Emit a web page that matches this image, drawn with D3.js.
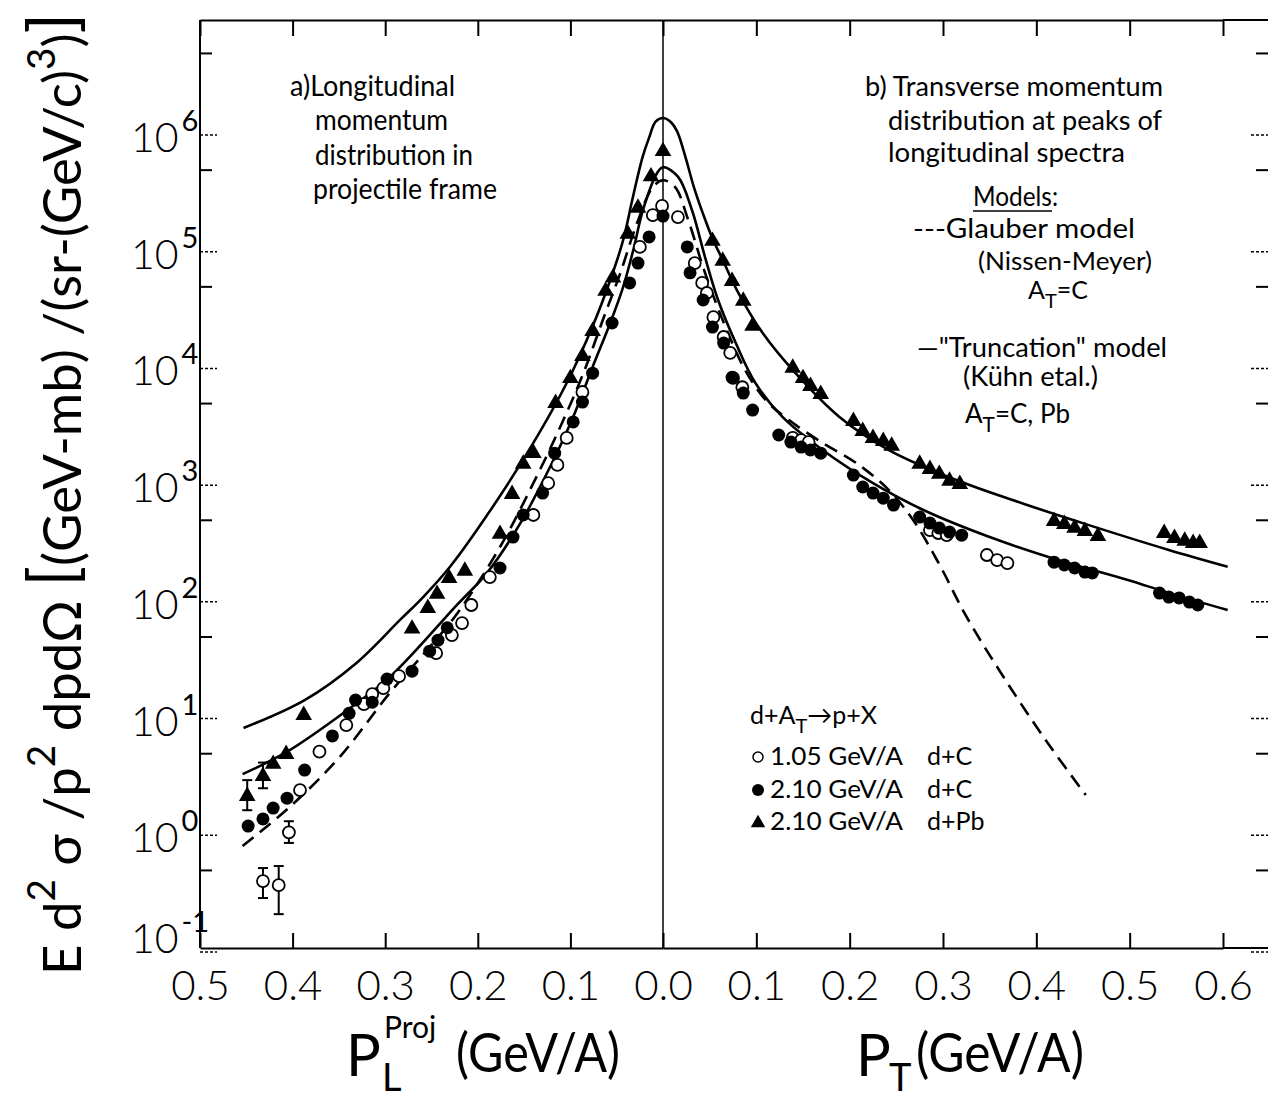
<!DOCTYPE html>
<html>
<head>
<meta charset="utf-8">
<script src="https://cdn.jsdelivr.net/npm/d3@7"></script>
<style>
  body { margin: 0; background: #fff; }
  svg { display: block; font-family: Lato, "DejaVu Sans", sans-serif; }
</style>
</head>
<body>
<svg id="chart" width="1268" height="1100"></svg>
<script>
// ---- values: [momentum (GeV/A), E d2sigma/p2dpdOmega] ----
// left panel: longitudinal momentum P_L (projectile frame)
const truncPbLeft = [[0,1.4e6],[0.008,1.3e6],[0.015,9.5e5],[0.022,6.5e5],[0.028,4.2e5],[0.034,2.6e5],[0.043,1.26e5],[0.057,5.7e4],[0.076,2.3e4],[0.104,7.5e3],[0.140,2.3e3],[0.184,650],[0.230,200],[0.259,110],[0.284,70],[0.331,30],[0.387,14.4],[0.453,8.3]];
const truncCLeft = [[0,5.3e5],[0.0065,4.7e5],[0.0216,2.28e5],[0.032,1.04e5],[0.043,5.0e4],[0.057,2.45e4],[0.076,1.03e4],[0.097,3.84e3],[0.122,1.43e3],[0.154,473],[0.190,177],[0.222,95],[0.295,22.7],[0.341,11.8],[0.406,5.2],[0.454,3.34]];
const glauberLeft = [[0,4.1e5],[0.011,3.58e5],[0.028,1.76e5],[0.046,6.6e4],[0.065,2.6e4],[0.086,9.1e3],[0.111,3.15e3],[0.140,1.04e3],[0.176,295],[0.222,80],[0.252,41],[0.295,16.6],[0.349,4.7],[0.403,1.75],[0.454,0.81]];

// [p, value] or [p, value, low, high] when an error bar is drawn
const open105Left = [[0.001,2.47e5],[0.011,2.06e5],[0.025,1.10e5],[0.087,6.28e3],[0.104,2.54e3],[0.114,1.49e3],[0.124,1.04e3],[0.140,555],[0.187,163],[0.207,94],[0.217,65.8],[0.228,51.9],[0.245,36.4],[0.285,23.1],[0.302,18.2],[0.314,16.2],[0.323,13.3],[0.342,8.8],[0.371,5.2],[0.392,2.44],[0.404,1.06,0.86,1.32],[0.415,0.374,0.211,0.545],[0.432,0.405,0.29,0.524]];
const filled210CLeft = [[0,2.02e5],[0.015,1.34e5],[0.027,8.0e4],[0.036,5.4e4],[0.055,2.45e4],[0.076,9.1e3],[0.087,5.15e3],[0.097,3.48e3],[0.117,1.88e3],[0.130,855],[0.151,555],[0.162,359],[0.176,195],[0.233,60],[0.243,47],[0.252,37.8],[0.271,25.5],[0.298,21.8],[0.314,13.8],[0.332,14.4],[0.339,11.1],[0.357,7.1],[0.387,3.62],[0.406,2.08],[0.421,1.71],[0.432,1.38],[0.448,1.20]];
const tri210PbLeft = [[0,7.4e5],[0.013,4.5e5],[0.027,2.42e5],[0.038,1.45e5],[0.054,6.1e4],[0.062,4.7e4],[0.076,2.13e4],[0.087,1.3e4],[0.100,8.4e3],[0.116,5.15e3],[0.140,1.92e3],[0.151,1.55e3],[0.163,855],[0.176,389],[0.214,188],[0.231,163],[0.244,119],[0.254,90],[0.271,60],[0.388,10.9],[0.407,5.06],[0.421,4.16],[0.432,3.28,2.53,4.2],[0.449,2.21,1.64,2.97]];

// right panel: transverse momentum P_T
const truncPbRight = [[0,1.4e6],[0.008,1.3e6],[0.015,1.08e6],[0.024,6.5e5],[0.033,3.6e5],[0.043,2.1e5],[0.053,1.3e5],[0.064,8.5e4],[0.081,4.4e4],[0.107,2.0e4],[0.142,9.1e3],[0.189,3.84e3],[0.242,2.0e3],[0.315,1.1e3],[0.387,690],[0.458,450],[0.541,280],[0.605,200]];
const truncCRight = [[0,5.3e5],[0.016,4.4e5],[0.031,2.28e5],[0.045,9.0e4],[0.059,3.86e4],[0.078,1.65e4],[0.099,7.5e3],[0.128,3.84e3],[0.171,2.0e3],[0.225,1.04e3],[0.279,612],[0.350,359],[0.422,230],[0.498,154],[0.541,120],[0.605,85]];
const glauberRight = [[0,4.1e5],[0.013,3.58e5],[0.027,1.87e5],[0.045,6.6e4],[0.067,2.26e4],[0.088,9.7e3],[0.110,5.36e3],[0.135,3.61e3],[0.171,2.3e3],[0.207,1.55e3],[0.242,908],[0.268,502],[0.296,210],[0.325,75],[0.374,17.5],[0.416,5.6],[0.453,2.21]];

const open105Right = [[0.016,1.98e5],[0.034,8.0e4],[0.042,5.4e4],[0.047,4.43e4],[0.054,2.75e4],[0.065,1.86e4],[0.072,1.36e4],[0.075,8.3e3],[0.085,6.9e3],[0.139,2.54e3],[0.148,2.43e3],[0.156,2.34e3],[0.286,412],[0.295,389],[0.304,373],[0.347,252],[0.358,228],[0.369,215]];
const filled210CRight = [[0.026,1.10e5],[0.029,6.6e4],[0.043,3.86e4],[0.053,2.26e4],[0.065,1.65e4],[0.074,8.4e3],[0.086,6.15e3],[0.096,4.4e3],[0.124,2.69e3],[0.137,2.34e3],[0.148,2.12e3],[0.158,2.0e3],[0.169,1.88e3],[0.204,1.22e3],[0.214,964],[0.225,855],[0.236,774],[0.247,675],[0.275,533],[0.286,473],[0.296,429],[0.307,396],[0.320,373],[0.419,219],[0.430,207],[0.441,195],[0.452,180],[0.460,177],[0.532,119],[0.542,110],[0.553,108],[0.564,99.5],[0.573,94]];
const tri210PbRight = [[0.053,1.26e5],[0.064,8.5e4],[0.074,5.7e4],[0.086,3.86e4],[0.096,2.36e4],[0.139,1.03e4],[0.150,8.4e3],[0.158,7.2e3],[0.169,6.15e3],[0.204,3.61e3],[0.214,2.96e3],[0.225,2.58e3],[0.236,2.43e3],[0.245,2.21e3],[0.275,1.55e3],[0.286,1.40e3],[0.296,1.27e3],[0.307,1.11e3],[0.318,1.04e3],[0.419,502],[0.430,473],[0.441,438],[0.452,412],[0.466,373],[0.537,396],[0.548,359],[0.559,339],[0.568,325],[0.575,325]];

// axis ticks
const xTicksLeft = [0.5, 0.4, 0.3, 0.2, 0.1, 0.0];
const xTicksRight = [0.1, 0.2, 0.3, 0.4, 0.5, 0.6];
const yDecades = [-1, 0, 1, 2, 3, 4, 5, 6];

// ---- drawing ----
const svg = d3.select("#chart");
const plotLeft = 200, plotMid = 663, plotRight = 1268, plotTop = 20, plotBottom = 948;

const xL = d3.scaleLinear().domain([0.5, 0]).range([plotLeft, plotMid]);
const xR = d3.scaleLinear().domain([0, 0.6]).range([plotMid, 1223]);
const y = d3.scaleLog().domain([0.1, 1e7]).range([952, 18.3]);

// frame and axes
const bottomL = d3.axisBottom(xL).tickValues(xTicksLeft).tickSize(-15).tickSizeOuter(0).tickPadding(22).tickFormat(d3.format(".1f"));
const bottomR = d3.axisBottom(xR).tickValues(xTicksRight).tickSize(-15).tickSizeOuter(0).tickPadding(22).tickFormat(d3.format(".1f"));
const topL = d3.axisTop(xL).tickValues(xTicksLeft).tickSize(-16).tickSizeOuter(0).tickFormat("");
const topR = d3.axisTop(xR).tickValues(xTicksRight).tickSize(-16).tickSizeOuter(0).tickFormat("");

function styleAxis(g) {
  g.select(".domain").attr("stroke", "#000").attr("stroke-width", 2);
  g.selectAll(".tick line").attr("stroke", "#000").attr("stroke-width", 2);
  g.selectAll(".tick text").attr("font-size", 42).attr("font-weight", 300).attr("fill", "#000")
    .attr("font-family", "Lato, 'DejaVu Sans', sans-serif");
}
svg.append("g").attr("transform", `translate(0,${plotBottom})`).call(bottomL).call(styleAxis);
svg.append("g").attr("transform", `translate(0,${plotBottom})`).call(bottomR).call(styleAxis);
svg.append("g").attr("transform", `translate(0,${plotTop})`).call(topL).call(styleAxis);
svg.append("g").attr("transform", `translate(0,${plotTop})`).call(topR).call(styleAxis);
svg.append("line").attr("x1", 1223).attr("x2", plotRight).attr("y1", plotBottom).attr("y2", plotBottom).attr("stroke", "#000").attr("stroke-width", 2);
svg.append("line").attr("x1", 1223).attr("x2", plotRight).attr("y1", plotTop).attr("y2", plotTop).attr("stroke", "#000").attr("stroke-width", 2);

// left axis line and the P=0 divider
svg.append("line").attr("x1", plotLeft).attr("x2", plotLeft).attr("y1", plotTop).attr("y2", plotBottom).attr("stroke", "#000").attr("stroke-width", 2);
svg.append("line").attr("x1", plotMid).attr("x2", plotMid).attr("y1", plotTop).attr("y2", plotBottom).attr("stroke", "#000").attr("stroke-width", 1.5);

// y ticks: dashed at decades, solid at 5x
const yTicks = svg.append("g");
yDecades.forEach(e => {
  const v = Math.pow(10, e);
  [[plotLeft, plotLeft + 17], [plotRight - 17, plotRight]].forEach(([a, b]) => {
    yTicks.append("line").attr("x1", a).attr("x2", b).attr("y1", y(v)).attr("y2", y(v))
      .attr("stroke", "#000").attr("stroke-width", 1.5).attr("stroke-dasharray", "3,2");
  });
  const v5 = 5 * v;
  [[plotLeft, plotLeft + 12], [plotRight - 12, plotRight]].forEach(([a, b]) => {
    yTicks.append("line").attr("x1", a).attr("x2", b).attr("y1", y(v5)).attr("y2", y(v5))
      .attr("stroke", "#000").attr("stroke-width", 2);
  });
  const ty = Math.min(y(v) + 17, 953);
  const t = yTicks.append("text").attr("x", 131).attr("y", ty).attr("font-size", 41).attr("font-weight", 300);
  t.append("tspan").text("10");
  t.append("tspan").attr("dx", 3).attr("dy", -21).attr("font-size", 29).attr("font-weight", 400)
    .text(e < 0 ? "-" + (-e) : e);
});

// model curves (left and right halves joined at P=0)
const line = d3.line().x(d => d[0]).y(d => d[1]).curve(d3.curveCatmullRom.alpha(0.5));
function joined(l, r) {
  const a = l.map(d => [xL(d[0]), y(d[1])]).sort((p, q) => p[0] - q[0]);
  const b = r.filter(d => d[0] > 0).map(d => [xR(d[0]), y(d[1])]);
  return a.concat(b);
}
const curves = svg.append("g").attr("fill", "none").attr("stroke", "#000").attr("stroke-width", 2.6);
curves.append("path").attr("d", line(joined(truncPbLeft, truncPbRight)));
curves.append("path").attr("d", line(joined(truncCLeft, truncCRight)));
curves.append("path").attr("d", line(joined(glauberLeft, glauberRight))).attr("stroke-dasharray", "14,8");

// data points
const triSym = d3.symbol(d3.symbolTriangle, 120);
function drawSet(data, xs, kind) {
  const g = svg.append("g");
  data.filter(d => d.length > 2).forEach(d => {
    const x = xs(d[0]);
    g.append("line").attr("x1", x).attr("x2", x).attr("y1", y(d[2])).attr("y2", y(d[3])).attr("stroke", "#000").attr("stroke-width", 2);
    [d[2], d[3]].forEach(v => g.append("line").attr("x1", x - 5).attr("x2", x + 5).attr("y1", y(v)).attr("y2", y(v)).attr("stroke", "#000").attr("stroke-width", 2));
  });
  data.forEach(d => {
    const x = xs(d[0]), yy = y(d[1]);
    if (kind === "tri") {
      g.append("path").attr("d", triSym()).attr("transform", `translate(${x},${yy + 1})`).attr("fill", "#000");
    } else if (kind === "open") {
      g.append("circle").attr("cx", x).attr("cy", yy).attr("r", 6).attr("fill", "#fff").attr("stroke", "#000").attr("stroke-width", 1.8);
    } else {
      g.append("circle").attr("cx", x).attr("cy", yy).attr("r", 6.5).attr("fill", "#000");
    }
  });
}
drawSet(open105Left, xL, "open");
drawSet(open105Right, xR, "open");
drawSet(filled210CLeft, xL, "filled");
drawSet(filled210CRight, xR, "filled");
drawSet(tri210PbLeft, xL, "tri");
drawSet(tri210PbRight, xR, "tri");

// annotations
function txt(x, yy, s, size, len) {
  const t = svg.append("text").attr("x", x).attr("y", yy).attr("font-size", size).text(s);
  if (len) t.attr("textLength", len).attr("lengthAdjust", "spacingAndGlyphs");
  return t;
}
function subT(x, yy, pre, sub, post, size) {
  const t = svg.append("text").attr("x", x).attr("y", yy).attr("font-size", size);
  t.append("tspan").text(pre);
  t.append("tspan").attr("dy", 9).attr("font-size", size * 0.8).text(sub);
  t.append("tspan").attr("dy", -9).text(post);
  return t;
}
txt(290, 96, "a)Longitudinal", 28, 165);
txt(315, 130, "momentum", 28, 133);
txt(315, 165, "distribution in", 28, 158);
txt(313, 199, "projectile frame", 28, 184);

txt(865, 96, "b) Transverse momentum", 27, 298);
txt(888, 130, "distribution at peaks  of", 27, 274);
txt(888, 162, "longitudinal  spectra", 27, 237);
txt(973, 206, "Models:", 27, 85);
svg.append("line").attr("x1", 973).attr("x2", 1052).attr("y1", 211).attr("y2", 211).attr("stroke", "#000").attr("stroke-width", 1.5);
txt(913, 238, "---Glauber model", 26, 222);
txt(978, 270, "(Nissen-Meyer)", 25, 174);
subT(1028, 299, "A", "T", "=C", 25);
txt(917, 357, "\u2014\"Truncation\" model", 27, 250);
txt(963, 386, "(Kühn etal.)", 26, 135);
subT(965, 423, "A", "T", "=C, Pb", 26);

// legend
subT(750, 724, "d+A", "T", "\u2192p+X", 25);
const legendRows = [["open", 757, "1.05 GeV/A", "d+C"], ["filled", 790, "2.10 GeV/A", "d+C"], ["tri", 822, "2.10 GeV/A", "d+Pb"]];
legendRows.forEach(([kind, ly, a, b]) => {
  if (kind === "open") svg.append("circle").attr("cx", 758).attr("cy", ly).attr("r", 5).attr("fill", "#fff").attr("stroke", "#000").attr("stroke-width", 1.5);
  else if (kind === "filled") svg.append("circle").attr("cx", 758).attr("cy", ly).attr("r", 6).attr("fill", "#000");
  else svg.append("path").attr("d", d3.symbol(d3.symbolTriangle, 90)()).attr("transform", `translate(758,${ly + 1})`).attr("fill", "#000");
  txt(770, ly + 8, a, 25, 133);
  txt(927, ly + 8, b, 25);
});

// x axis titles
svg.append("text").attr("x", 346).attr("y", 1076).attr("font-size", 58).text("P");
svg.append("text").attr("x", 384).attr("y", 1038).attr("font-size", 30).text("Proj");
svg.append("text").attr("x", 382).attr("y", 1091).attr("font-size", 38).text("L");
svg.append("text").attr("x", 456).attr("y", 1072).attr("font-size", 55).attr("textLength", 164).attr("lengthAdjust", "spacingAndGlyphs").text("(GeV/A)");

svg.append("text").attr("x", 856).attr("y", 1076).attr("font-size", 58).text("P");
svg.append("text").attr("x", 889).attr("y", 1091).attr("font-size", 38).text("T");
svg.append("text").attr("x", 916).attr("y", 1072).attr("font-size", 55).attr("textLength", 168).attr("lengthAdjust", "spacingAndGlyphs").text("(GeV/A)");

// y axis title (rotated)
const yt = svg.append("text").attr("transform", "translate(81,975) rotate(-90)")
  .attr("font-size", 52).attr("textLength", 962).attr("lengthAdjust", "spacingAndGlyphs");
const parts = [["E d", 0], ["2", 1], [" \u03c3 /p", 0], ["2", 1], [" dpd\u03a9 ", 0], ["[", 2], ["(GeV-mb) /(sr-(GeV/c)", 0], ["3", 1], [")", 0], ["]", 2]];
let shift = 0;
parts.forEach(([s, k]) => {
  const target = k === 1 ? -26 : k === 2 ? -6 : 0;
  const ts = yt.append("tspan").attr("dy", target - shift).text(s);
  if (k === 1) ts.attr("font-size", 38);
  if (k === 2) ts.attr("font-size", 66);
  shift = target;
});
</script>
</body>
</html>
